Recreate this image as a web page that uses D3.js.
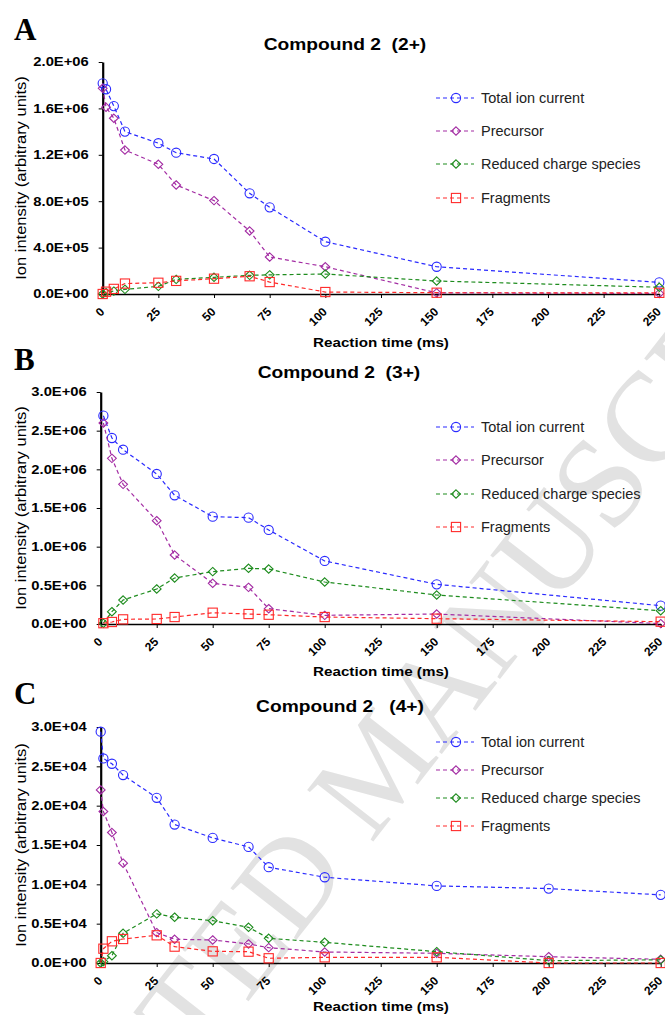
<!DOCTYPE html>
<html>
<head>
<meta charset="utf-8">
<script src="https://cdnjs.cloudflare.com/ajax/libs/d3/7.8.5/d3.min.js"></script>
<style>
body { margin: 0; background: #fff; }
text { font-family: "Liberation Sans", Arial, sans-serif; }
</style>
</head>
<body>
<div id="chart"></div>
<script>
// ---- data ----
const seriesNames = ["Total ion current", "Precursor", "Reduced charge species", "Fragments"];
const xTicks = [0, 25, 50, 75, 100, 125, 150, 175, 200, 225, 250];

// A: compound 2 (2+)
const timesA = [0, 1.5, 5, 10, 25, 33, 50, 66, 75, 100, 150, 250];
const totalA = [1.816e6, 1.765e6, 1.62e6, 1.40e6, 1.30e6, 1.218e6, 1.164e6, 0.868e6, 0.747e6, 0.451e6, 0.235e6, 0.100e6];
const precursorA = [1.773e6, 1.61e6, 1.515e6, 1.241e6, 1.118e6, 0.94e6, 0.805e6, 0.543e6, 0.319e6, 0.235e6, 0.010e6, 0.005e6];
const reducedA = [0, 0.012e6, 0.025e6, 0.040e6, 0.066e6, 0.126e6, 0.144e6, 0.161e6, 0.165e6, 0.172e6, 0.112e6, 0.058e6];
const fragmentsA = [0, 0.020e6, 0.044e6, 0.090e6, 0.097e6, 0.113e6, 0.132e6, 0.153e6, 0.103e6, 0.017e6, 0.011e6, 0.010e6];
const yTicksA = [0, 4e5, 8e5, 1.2e6, 1.6e6, 2e6];
const yLabelsA = ["0.0E+00", "4.0E+05", "8.0E+05", "1.2E+06", "1.6E+06", "2.0E+06"];

// B: compound 2 (3+)
const timesB = [1.2, 5, 10, 25, 33, 50, 66, 75, 100, 150, 250];
const totalB = [2.694e6, 2.405e6, 2.254e6, 1.94e6, 1.664e6, 1.388e6, 1.375e6, 1.216e6, 0.815e6, 0.513e6, 0.237e6];
const precursorB = [2.599e6, 2.142e6, 1.806e6, 1.336e6, 0.892e6, 0.526e6, 0.474e6, 0.198e6, 0.112e6, 0.129e6, 0.005e6];
const reducedB = [0.010e6, 0.159e6, 0.310e6, 0.453e6, 0.595e6, 0.677e6, 0.720e6, 0.711e6, 0.543e6, 0.375e6, 0.172e6];
const fragmentsB = [0.010e6, 0.026e6, 0.060e6, 0.065e6, 0.090e6, 0.146e6, 0.129e6, 0.120e6, 0.090e6, 0.069e6, 0.030e6];
const yTicksB = [0, 0.5e6, 1e6, 1.5e6, 2e6, 2.5e6, 3e6];
const yLabelsB = ["0.0E+00", "0.5E+06", "1.0E+06", "1.5E+06", "2.0E+06", "2.5E+06", "3.0E+06"];

// C: compound 2 (4+)
const timesC = [0, 1.2, 5, 10, 25, 33, 50, 66, 75, 100, 150, 200, 250];
const totalC = [2.94e4, 2.60e4, 2.533e4, 2.389e4, 2.10e4, 1.76e4, 1.59e4, 1.476e4, 1.218e4, 1.09e4, 0.98e4, 0.946e4, 0.866e4];
const precursorC = [2.20e4, 1.926e4, 1.659e4, 1.269e4, 0.386e4, 0.302e4, 0.293e4, 0.242e4, 0.195e4, 0.140e4, 0.123e4, 0.080e4, 0.047e4];
const reducedC = [0, 0.017e4, 0.093e4, 0.378e4, 0.624e4, 0.582e4, 0.538e4, 0.454e4, 0.314e4, 0.263e4, 0.144e4, 0.030e4, 0.040e4];
const fragmentsC = [0, 0.182e4, 0.276e4, 0.305e4, 0.352e4, 0.208e4, 0.148e4, 0.144e4, 0.060e4, 0.072e4, 0.072e4, 0, 0];
const yTicksC = [0, 0.5e4, 1e4, 1.5e4, 2e4, 2.5e4, 3e4];
const yLabelsC = ["0.0E+00", "0.5E+04", "1.0E+04", "1.5E+04", "2.0E+04", "2.5E+04", "3.0E+04"];

// ---- styling ----
const colors = ["#2a2aff", "#a32ca3", "#1e8c1e", "#ff2a2a"];
const shapes = ["circle", "diamond", "diamond", "square"];

const width = 665, height = 1015;

const svg = d3.select("#chart").append("svg")
    .attr("width", width)
    .attr("height", height);

// "accepted manuscript" watermark behind the plots
svg.append("text")
    .attr("transform", "translate(-56,1391) rotate(-52)")
    .style("font-family", "'Liberation Serif', 'Times New Roman', serif")
    .style("font-size", "128px")
    .style("fill", "#e2e2e2")
    .style("white-space", "pre")
    .text("ACCEPTED MANUSCRIPT");

function marker(sel, shape, color) {
    if (shape === "circle") {
        sel.append("circle").attr("r", 4.6);
    } else if (shape === "square") {
        sel.append("rect").attr("x", -4.6).attr("y", -4.6).attr("width", 9.2).attr("height", 9.2);
    } else {
        sel.append("path").attr("d", "M0,-4.2L4.4,0L0,4.2L-4.4,0Z");
    }
    sel.selectAll("*")
        .attr("fill", "none")
        .attr("stroke", color)
        .attr("stroke-width", 1.1);
}

function drawPanel(p) {
    const g = svg.append("g");

    const x = d3.scaleLinear().domain([0, 250]).range([p.x0, p.x1]);
    const y = d3.scaleLinear().domain([0, p.yMax]).range([p.yBottom, p.yTop]);

    // x axis
    const xAxis = g.append("g")
        .attr("transform", "translate(0," + p.yBottom + ")")
        .call(d3.axisBottom(x).tickValues(xTicks).tickSize(4).tickSizeOuter(0).tickFormat(d => d));
    xAxis.select(".domain").attr("stroke-width", 1.6);
    xAxis.selectAll("text")
        .attr("x", 0).attr("y", 0).attr("dy", 0)
        .attr("transform", "translate(2,18.5) rotate(-45)")
        .attr("text-anchor", "end")
        .attr("fill", "#000")
        .style("font-size", "12px")
        .style("font-weight", "bold")
        .style("font-family", "'Liberation Sans', Arial, sans-serif");

    // y axis
    const yAxis = g.append("g")
        .attr("transform", "translate(" + p.x0 + ",0)")
        .call(d3.axisLeft(y).tickValues(p.yTicks).tickSize(4).tickSizeOuter(0)
            .tickFormat((d, i) => p.yLabels[i]));
    yAxis.select(".domain").attr("stroke-width", 2.2);
    yAxis.selectAll("text")
        .attr("x", -14 / 1.23)
        .attr("transform", "scale(1.23,1)")
        .attr("fill", "#000")
        .style("font-size", "12px")
        .style("font-weight", "bold")
        .style("font-family", "'Liberation Sans', Arial, sans-serif");

    // panel letter
    g.append("text")
        .attr("x", 14)
        .attr("y", p.letterY)
        .style("font-family", "'Liberation Serif', 'Times New Roman', serif")
        .style("font-size", "31px")
        .style("font-weight", "bold")
        .text(p.letter);

    // title
    g.append("text")
        .attr("transform", "translate(" + p.titleX + "," + p.titleY + ") scale(1.2,1)")
        .attr("text-anchor", "middle")
        .style("font-size", "16px")
        .style("font-weight", "bold")
        .style("white-space", "pre")
        .text(p.title);

    // axis titles
    g.append("text")
        .attr("transform", "translate(381," + p.xTitleY + ") scale(1.17,1)")
        .attr("text-anchor", "middle")
        .style("font-size", "13px")
        .style("font-weight", "bold")
        .text("Reaction time (ms)");

    g.append("text")
        .attr("transform", "translate(21," + ((p.yTop + p.yBottom) / 2) + ") rotate(-90) scale(1.18,1)")
        .attr("text-anchor", "middle")
        .attr("dy", "0.35em")
        .style("font-size", "14px")
        .text("Ion intensity (arbitrary units)");

    // series
    const line = d3.line()
        .x(d => x(d.t))
        .y(d => y(d.v));

    p.series.forEach((vals, k) => {
        const data = vals.map((v, i) => ({ t: p.times[i], v: v }));
        g.append("path")
            .datum(data)
            .attr("fill", "none")
            .attr("stroke", colors[k])
            .attr("stroke-width", 1.2)
            .attr("stroke-dasharray", "4,3")
            .attr("d", line);

        g.selectAll(".m" + k)
            .data(data)
            .enter()
            .append("g")
            .attr("class", "m" + k)
            .attr("transform", d => "translate(" + x(d.t) + "," + y(d.v) + ")")
            .each(function() { marker(d3.select(this), shapes[k], colors[k]); });
    });

    // legend
    seriesNames.forEach((name, k) => {
        const ly = p.legendY[k];
        g.append("line")
            .attr("x1", 436).attr("x2", 474)
            .attr("y1", ly).attr("y2", ly)
            .attr("stroke", colors[k])
            .attr("stroke-width", 1.2)
            .attr("stroke-dasharray", "4,3");
        const mk = g.append("g").attr("transform", "translate(456," + ly + ")");
        marker(mk, shapes[k], colors[k]);
        g.append("text")
            .attr("x", 481)
            .attr("y", ly)
            .attr("dy", "0.36em")
            .style("font-size", "14.5px")
            .style("fill", "#222")
            .style("white-space", "pre")
            .text(name);
    });
}

drawPanel({
    letter: "A", title: "Compound 2  (2+)",
    times: timesA, series: [totalA, precursorA, reducedA, fragmentsA],
    yMax: 2e6, yTicks: yTicksA, yLabels: yLabelsA,
    x0: 102.7, x1: 659.3, yTop: 62, yBottom: 294,
    letterY: 40, titleX: 345, titleY: 50, xTitleY: 347,
    legendY: [98, 131, 164, 198]
});

drawPanel({
    letter: "B", title: "Compound 2  (3+)",
    times: timesB, series: [totalB, precursorB, reducedB, fragmentsB],
    yMax: 3e6, yTicks: yTicksB, yLabels: yLabelsB,
    x0: 100.7, x1: 660.7, yTop: 392, yBottom: 624,
    letterY: 370, titleX: 339, titleY: 378, xTitleY: 676,
    legendY: [427, 460, 494, 527]
});

drawPanel({
    letter: "C", title: "Compound 2   (4+)",
    times: timesC, series: [totalC, precursorC, reducedC, fragmentsC],
    yMax: 3e4, yTicks: yTicksC, yLabels: yLabelsC,
    x0: 100.7, x1: 660.7, yTop: 727, yBottom: 963,
    letterY: 704, titleX: 340, titleY: 712, xTitleY: 1011,
    legendY: [742, 770, 798, 826]
});
</script>
</body>
</html>
